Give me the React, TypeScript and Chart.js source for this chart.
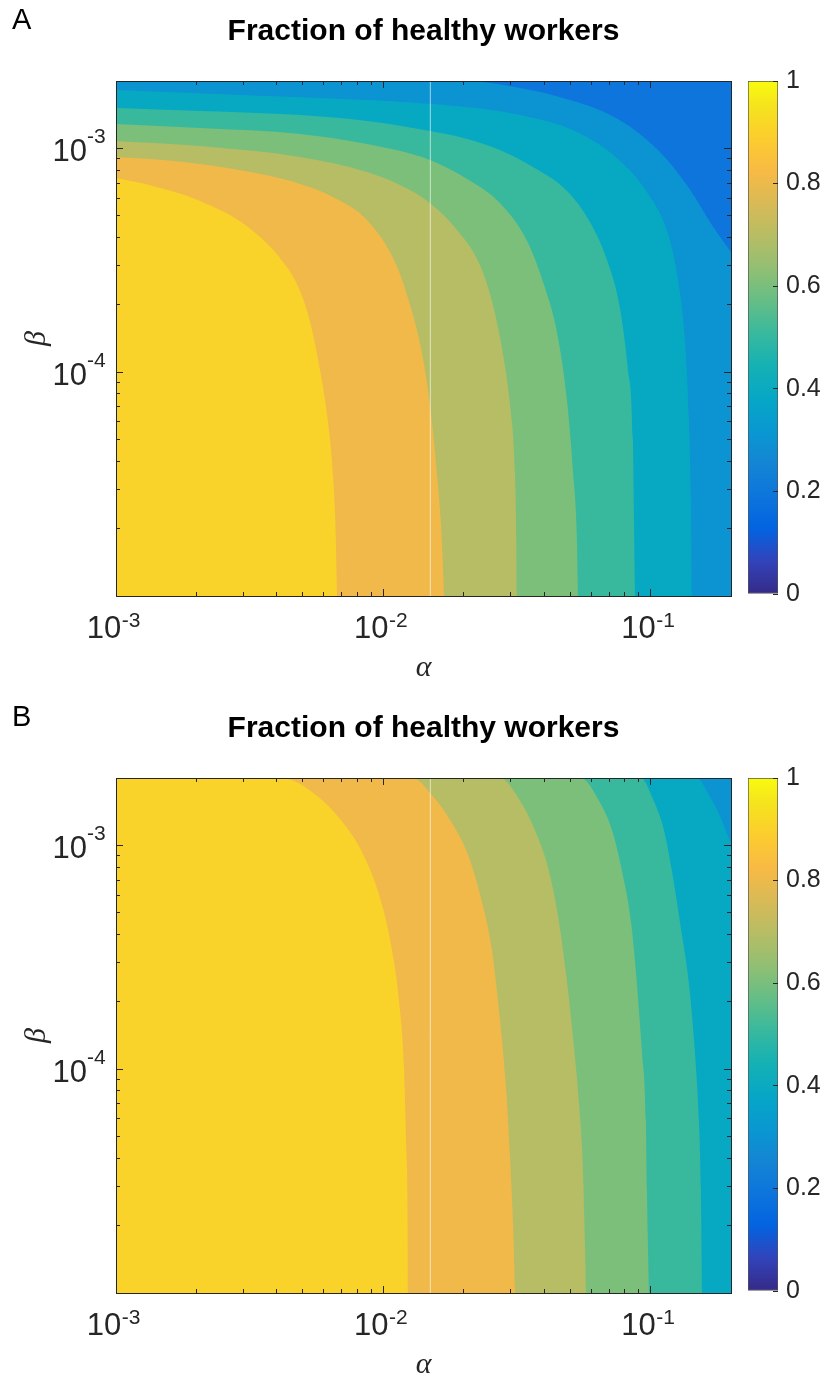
import React, { useEffect, useRef } from 'react';
import { Chart, registerables } from 'chart.js';

Chart.register(...registerables);

// ---------- axis ranges & ticks ----------
const ALPHA_MIN = 1e-3;
const ALPHA_MAX = 0.2;
const BETA_MIN = 1e-5;
const BETA_MAX = 2e-3;
const X_DECADES = [1e-3, 1e-2, 1e-1];
const Y_DECADES = [1e-5, 1e-4, 1e-3];
const X_MAJOR_TICKS = [1e-3, 1e-2, 1e-1];
const Y_MAJOR_TICKS = [1e-4, 1e-3];
const MINOR_MULTIPLIERS = [2, 3, 4, 5, 6, 7, 8, 9];
const COLORBAR_TICKS = [0, 0.2, 0.4, 0.6, 0.8, 1];
const MARKER_ALPHA = 0.015;

type Pt = [number, number]; // [alpha, beta]

// ---------- panel A contour lines (alpha, beta) ----------
const A_090: Pt[] = [[1.0e-3, 7.38e-4], [1.24e-3, 7.0e-4], [2.06e-3, 5.82e-4], [3.15e-3, 4.41e-4], [4.36e-3, 2.95e-4], [4.88e-3, 2.31e-4], [5.32e-3, 1.68e-4], [5.8e-3, 1.02e-4], [6.21e-3, 5.99e-5], [6.48e-3, 3.51e-5], [6.65e-3, 1.73e-5], [6.71e-3, 1.0e-5]];
const A_080: Pt[] = [[1.0e-3, 9.15e-4], [1.78e-3, 8.7e-4], [3.64e-3, 7.6e-4], [4.88e-3, 6.93e-4], [6.48e-3, 6.07e-4], [8.69e-3, 4.79e-4], [1.106e-2, 3.11e-4], [1.259e-2, 2.0e-4], [1.395e-2, 1.218e-4], [1.495e-2, 7.13e-5], [1.588e-2, 3.51e-5], [1.658e-2, 1.73e-5], [1.687e-2, 1.0e-5]];
const A_070: Pt[] = [[1.0e-3, 1.079e-3], [2.06e-3, 1.025e-3], [4.88e-3, 9.15e-4], [8.69e-3, 7.84e-4], [1.155e-2, 6.86e-4], [1.495e-2, 5.7e-4], [1.887e-2, 4.32e-4], [2.3e-2, 3.01e-4], [2.57e-2, 2.0e-4], [2.8e-2, 1.218e-4], [2.98e-2, 7.13e-5], [3.11e-2, 3.51e-5], [3.15e-2, 1.73e-5], [3.16e-2, 1.0e-5]];
const A_060: Pt[] = [[1.0e-3, 1.285e-3], [2.06e-3, 1.234e-3], [4.88e-3, 1.16e-3], [8.69e-3, 1.046e-3], [1.495e-2, 8.88e-4], [2.06e-2, 7.3e-4], [2.73e-2, 5.7e-4], [3.45e-2, 3.86e-4], [3.96e-2, 2.53e-4], [4.47e-2, 1.497e-4], [4.87e-2, 7.43e-5], [5.12e-2, 3.66e-5], [5.3e-2, 1.8e-5], [5.35e-2, 1.0e-5]];
const A_050: Pt[] = [[1.0e-3, 1.515e-3], [2.06e-3, 1.469e-3], [4.88e-3, 1.41e-3], [8.69e-3, 1.326e-3], [1.495e-2, 1.196e-3], [2.06e-2, 1.102e-3], [2.73e-2, 9.84e-4], [3.63e-2, 8.26e-4], [4.87e-2, 6.45e-4], [5.93e-2, 4.69e-4], [6.87e-2, 3.17e-4], [7.68e-2, 1.936e-4], [8.23e-2, 1.023e-4], [8.59e-2, 4.98e-5], [8.67e-2, 2.19e-5], [8.74e-2, 1.0e-5]];
const A_040: Pt[] = [[1.0e-3, 1.823e-3], [3.64e-3, 1.715e-3], [1.52e-2, 1.579e-3], [3.11e-2, 1.424e-3], [5.3e-2, 1.184e-3], [7.55e-2, 8.97e-4], [9.69e-2, 6.39e-4], [1.162e-1, 4.15e-4], [1.267e-1, 2.58e-4], [1.345e-1, 1.393e-4], [1.392e-1, 6.11e-5], [1.416e-1, 2.69e-5], [1.428e-1, 1.0e-5]];
const A_030: Pt[] = [[2.02e-2, 2.0e-3], [3.25e-2, 1.862e-3], [4.43e-2, 1.715e-3], [7.55e-2, 1.353e-3], [1.084e-1, 9.64e-4], [1.392e-1, 6.65e-4], [1.697e-1, 4.55e-4], [2.0e-1, 3.44e-4]];

// ---------- panel B contour lines (alpha, beta) ----------
const B_090: Pt[] = [[4.18e-3, 2.0e-3], [5.6e-3, 1.68e-3], [6.89e-3, 1.312e-3], [8.25e-3, 9.54e-4], [9.55e-3, 6.26e-4], [1.059e-2, 3.82e-4], [1.145e-2, 2.02e-4], [1.196e-2, 9.92e-5], [1.216e-2, 4.88e-5], [1.232e-2, 2.4e-5], [1.237e-2, 1.0e-5]];
const B_080: Pt[] = [[1.291e-2, 2.0e-3], [1.52e-2, 1.68e-3], [1.807e-2, 1.259e-3], [2.09e-2, 8.88e-4], [2.32e-2, 5.82e-4], [2.55e-2, 3.41e-4], [2.73e-2, 1.676e-4], [2.88e-2, 8.24e-5], [2.98e-2, 4.05e-5], [3.06e-2, 1.99e-5], [3.11e-2, 1.0e-5]];
const B_070: Pt[] = [[2.73e-2, 2.0e-3], [3.22e-2, 1.612e-3], [3.69e-2, 1.172e-3], [4.13e-2, 8.01e-4], [4.5e-2, 4.89e-4], [4.83e-2, 2.66e-4], [5.12e-2, 1.407e-4], [5.4e-2, 6.99e-5], [5.59e-2, 3.44e-5], [5.68e-2, 1.69e-5], [5.73e-2, 1.0e-5]];
const B_060: Pt[] = [[5.49e-2, 2.0e-3], [6.36e-2, 1.612e-3], [7.17e-2, 1.172e-3], [7.82e-2, 7.69e-4], [8.45e-2, 4.55e-4], [8.89e-2, 2.4e-4], [9.29e-2, 1.181e-4], [9.61e-2, 5.87e-5], [9.69e-2, 2.89e-5], [9.86e-2, 1.0e-5]];
const B_050: Pt[] = [[9.21e-2, 2.0e-3], [1.021e-1, 1.612e-3], [1.122e-1, 1.172e-3], [1.202e-1, 7.69e-4], [1.288e-1, 4.55e-4], [1.392e-1, 2.4e-4], [1.466e-1, 1.181e-4], [1.517e-1, 5.87e-5], [1.543e-1, 2.89e-5], [1.557e-1, 1.0e-5]];
const B_040: Pt[] = [[1.491e-1, 2.0e-3], [1.654e-1, 1.68e-3], [1.818e-1, 1.353e-3], [1.949e-1, 1.102e-3], [2.0e-1, 1.025e-3]];

interface Contour { level: number; pts: Pt[] }
const CONTOURS_A: Contour[] = [
  { level: 0.9, pts: A_090 }, { level: 0.8, pts: A_080 }, { level: 0.7, pts: A_070 },
  { level: 0.6, pts: A_060 }, { level: 0.5, pts: A_050 }, { level: 0.4, pts: A_040 },
  { level: 0.3, pts: A_030 },
];
const CONTOURS_B: Contour[] = [
  { level: 0.9, pts: B_090 }, { level: 0.8, pts: B_080 }, { level: 0.7, pts: B_070 },
  { level: 0.6, pts: B_060 }, { level: 0.5, pts: B_050 }, { level: 0.4, pts: B_040 },
];
const BASE_LEVEL_A = 0.2;
const BASE_LEVEL_B = 0.3;

// ---------- styles ----------
const LEVEL_COLORS: Record<string, string> = {
  '0.2': '#0d75dc', '0.3': '#0c93d2', '0.4': '#07a9c2', '0.5': '#38b99e',
  '0.6': '#7cbf7b', '0.7': '#b7bd64', '0.8': '#f1b94a', '0.9': '#f9d32a',
};
const PARULA_STOPS = ['#352a87', '#3243ba', '#0363e1', '#0d75dc', '#1485d4', '#0998d1', '#06a7c6', '#15b1b4', '#38b99e', '#65be86', '#92bf73', '#b7bd64', '#d9ba56', '#f8ba44', '#fccd2e', '#f5e41d', '#f9fb0e'];
const PARULA_POS = [0, 4, 8, 12, 16, 20, 24, 28, 32, 36, 40, 44, 48, 52, 56, 60, 63].map((r) => r / 63);

const FONT_SANS = "'Liberation Sans', Arial, Helvetica, sans-serif";
const FONT_SERIF = "'Liberation Serif', 'DejaVu Serif', 'Times New Roman', serif";
const INK = '#262626';

const PANEL_W = 740;
const PANEL_H = 682;
const PANEL_B_TOP = 697;
const BASE_FONT = 31;
const EXP_FONT = 21;

const exponentOf = (v: number) => String(Math.round(Math.log10(v)));
const minorTicks = (decades: number[], min: number, max: number) =>
  decades.flatMap((d) => MINOR_MULTIPLIERS.map((m) => m * d)).filter((v) => v > min * 1.0001 && v < max * 0.9999);

function logAxis(o: {
  position: 'bottom' | 'top' | 'left' | 'right';
  min: number; max: number; values: number[]; size: number; weight: number;
  tick?: number; border?: boolean; mirror?: boolean;
  label?: (v: number) => string; fontSize?: number; labelPadding?: number; labelOffset?: number;
  title?: any;
}) {
  const horizontal = o.position === 'bottom' || o.position === 'top';
  return {
    type: 'logarithmic',
    position: o.position,
    min: o.min,
    max: o.max,
    weight: o.weight,
    afterBuildTicks: (s: any) => { s.ticks = o.values.map((v) => ({ value: v })); },
    afterFit: (s: any) => { if (horizontal) s.height = o.size; else s.width = o.size; },
    ticks: o.label
      ? {
          display: true, autoSkip: false, maxRotation: 0, minRotation: 0, mirror: !!o.mirror,
          callback: (v: any) => (o.label as (v: number) => string)(Number(v)),
          font: { family: FONT_SANS, size: o.fontSize ?? BASE_FONT }, color: INK,
          padding: o.labelPadding ?? 10, labelOffset: o.labelOffset ?? 0,
        }
      : { display: false },
    grid: o.tick
      ? { display: true, drawOnChartArea: false, drawTicks: true, tickLength: -o.tick, tickColor: INK, tickWidth: 1, z: 1 }
      : { display: false },
    border: { display: !!o.border, color: INK, width: 1, z: 2 },
    title: o.title ?? { display: false },
  };
}

function buildPanelConfig(letter: string, contours: Contour[], baseLevel: number): any {
  const common = { borderWidth: 0, pointRadius: 0, pointHoverRadius: 0, cubicInterpolationMode: 'monotone' };
  const datasets: any[] = [];
  datasets.push({
    ...common,
    data: [{ x: ALPHA_MIN, y: BETA_MAX }, { x: ALPHA_MAX, y: BETA_MAX }],
    backgroundColor: LEVEL_COLORS[baseLevel.toFixed(1)],
    fill: 'start',
    order: 1000,
  });
  contours.forEach((c) => {
    const pts: Pt[] = c.pts[0][0] > ALPHA_MIN ? [[ALPHA_MIN, BETA_MAX], ...c.pts] : c.pts;
    datasets.push({
      ...common,
      data: pts.map(([x, y]) => ({ x, y })),
      backgroundColor: LEVEL_COLORS[c.level.toFixed(1)],
      fill: 'start',
      order: Math.round((1 - c.level) * 100),
    });
  });
  datasets.push({
    data: [{ x: MARKER_ALPHA, y: BETA_MIN }, { x: MARKER_ALPHA, y: BETA_MAX }],
    borderColor: 'rgba(255,255,255,0.6)',
    borderWidth: 1,
    pointRadius: 0,
    fill: false,
    order: -1,
  });

  const xMinor = minorTicks(X_DECADES, ALPHA_MIN, ALPHA_MAX);
  const yMinor = minorTicks(Y_DECADES, BETA_MIN, BETA_MAX);
  const X = { min: ALPHA_MIN, max: ALPHA_MAX };
  const Y = { min: BETA_MIN, max: BETA_MAX };

  return {
    type: 'line',
    data: { datasets },
    options: {
      responsive: false,
      animation: false,
      devicePixelRatio: 1,
      events: [],
      layout: { padding: { left: 12, right: 9, top: 0, bottom: 0 }, autoPadding: false },
      plugins: {
        legend: { display: false },
        tooltip: { enabled: false },
        title: {
          display: true, text: letter, align: 'start', fullSize: true, color: '#000',
          font: { family: FONT_SANS, size: 29, weight: 'normal', lineHeight: '2px' },
          padding: { top: 20, bottom: 0 },
        },
        subtitle: {
          display: true, text: 'Fraction of healthy workers', align: 'center', fullSize: false, color: '#000',
          font: { family: FONT_SANS, size: 30, weight: 'bold', lineHeight: '2px' },
          padding: { top: 9, bottom: 48 },
        },
      },
      scales: {
        x: logAxis({
          position: 'bottom', ...X, values: X_MAJOR_TICKS, size: PANEL_H - 596, weight: 1,
          tick: 7, border: true, label: () => '10', labelPadding: 22, labelOffset: -12,
          title: {
            display: true, text: '\u03B1', color: INK,
            font: { family: FONT_SERIF, style: 'italic', size: 30, lineHeight: '20px' },
            padding: { top: 0, bottom: 4 },
          },
        }),
        xExp: logAxis({
          position: 'bottom', ...X, values: X_MAJOR_TICKS, size: 0, weight: 0, mirror: true,
          label: exponentOf, fontSize: EXP_FONT, labelPadding: -38, labelOffset: 15,
        }),
        xMinor: logAxis({ position: 'bottom', ...X, values: xMinor, size: 0, weight: 0, tick: 4 }),
        xTop: logAxis({ position: 'top', ...X, values: X_MAJOR_TICKS, size: 0, weight: 0, tick: 7, border: true }),
        xTopMinor: logAxis({ position: 'top', ...X, values: xMinor, size: 0, weight: -1, tick: 4 }),
        y: logAxis({
          position: 'left', ...Y, values: Y_MAJOR_TICKS, size: 104, weight: 1,
          tick: 7, border: true, label: () => '10', labelPadding: 36, labelOffset: 4,
          title: {
            display: true, text: '\u03B2', color: INK,
            font: { family: FONT_SERIF, style: 'italic', size: 30, lineHeight: '20px' },
            padding: { top: 15, bottom: 0 },
          },
        }),
        yExp: logAxis({
          position: 'left', ...Y, values: Y_MAJOR_TICKS, size: 0, weight: 0, mirror: true,
          label: exponentOf, fontSize: EXP_FONT, labelPadding: -29, labelOffset: -11,
        }),
        yMinor: logAxis({ position: 'left', ...Y, values: yMinor, size: 0, weight: 0, tick: 4 }),
        yRight: logAxis({ position: 'right', ...Y, values: Y_MAJOR_TICKS, size: 0, weight: 0, tick: 7, border: true }),
        yRightMinor: logAxis({ position: 'right', ...Y, values: yMinor, size: 0, weight: -1, tick: 4 }),
      },
    },
  };
}

function buildColorbarConfig(): any {
  return {
    type: 'bar',
    data: {
      labels: [''],
      datasets: [{
        data: [1],
        backgroundColor: (ctx: any) => {
          const { chart } = ctx;
          const area = chart.chartArea;
          if (!area) return PARULA_STOPS[8];
          const g = chart.ctx.createLinearGradient(0, area.bottom, 0, area.top);
          PARULA_STOPS.forEach((c, i) => g.addColorStop(PARULA_POS[i], c));
          return g;
        },
        borderColor: '#555555',
        borderWidth: 1,
        borderSkipped: false,
        barPercentage: 1,
        categoryPercentage: 1,
      }],
    },
    options: {
      responsive: false,
      animation: false,
      devicePixelRatio: 1,
      events: [],
      layout: { padding: { left: 8, right: 0, top: 81, bottom: PANEL_H - 594 }, autoPadding: false },
      plugins: { legend: { display: false }, tooltip: { enabled: false } },
      scales: {
        x: { display: false },
        y: {
          position: 'right', min: 0, max: 1,
          afterBuildTicks: (s: any) => { s.ticks = COLORBAR_TICKS.map((v) => ({ value: v })); },
          afterFit: (s: any) => { s.width = 48; },
          ticks: { callback: (v: any) => String(v), font: { family: FONT_SANS, size: 25 }, color: INK, padding: 13 },
          grid: { drawOnChartArea: false, tickLength: -5, tickColor: INK, z: 1 },
          border: { display: false },
        },
      },
    },
  };
}

function Panel({ top, letter, contours, baseLevel }: { top: number; letter: string; contours: Contour[]; baseLevel: number }) {
  const ref = useRef<HTMLCanvasElement>(null);
  useEffect(() => {
    const chart = new Chart(ref.current as HTMLCanvasElement, buildPanelConfig(letter, contours, baseLevel));
    return () => chart.destroy();
  }, [letter, contours, baseLevel]);
  return (
    <canvas ref={ref} width={PANEL_W} height={PANEL_H}
      style={{ position: 'absolute', left: 0, top, width: PANEL_W, height: PANEL_H }} />
  );
}

function ColorBar({ top }: { top: number }) {
  const ref = useRef<HTMLCanvasElement>(null);
  useEffect(() => {
    const chart = new Chart(ref.current as HTMLCanvasElement, buildColorbarConfig());
    return () => chart.destroy();
  }, []);
  return (
    <canvas ref={ref} width={86} height={PANEL_H}
      style={{ position: 'absolute', left: PANEL_W, top, width: 86, height: PANEL_H }} />
  );
}

export default function App() {
  return (
    <div style={{ position: 'absolute', left: 0, top: 0, width: 826, height: 1379, overflow: 'hidden', background: '#ffffff' }}>
      <Panel top={0} letter="A" contours={CONTOURS_A} baseLevel={BASE_LEVEL_A} />
      <ColorBar top={0} />
      <Panel top={PANEL_B_TOP} letter="B" contours={CONTOURS_B} baseLevel={BASE_LEVEL_B} />
      <ColorBar top={PANEL_B_TOP} />
    </div>
  );
}
